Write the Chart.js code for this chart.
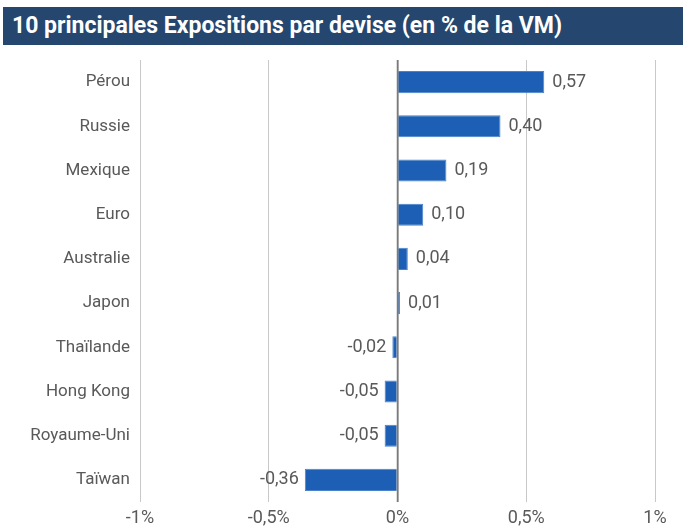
<!DOCTYPE html>
<html>
<head>
<meta charset="utf-8">
<script src="https://cdn.jsdelivr.net/npm/chart.js@4.4.1/dist/chart.umd.min.js"></script>
<style>
    body { margin: 0; background: #fff; }
    #wrap { position: relative; width: 683px; height: 530px; }
    #title {
        position: absolute; left: 3px; top: 7px; width: 680px; height: 38px;
        background: #24466f; color: #fff;
        font-family: Roboto, sans-serif;
        font-weight: bold; font-size: 23px; line-height: 38px; padding-left: 9px; box-sizing: border-box;
        white-space: nowrap; overflow: hidden;
    }
    #chart-box { position: absolute; left: 0; top: 0; width: 683px; height: 530px; }
</style>
</head>
<body>
<div id="wrap">
    <div id="chart-box"><canvas id="devise-canvas-id" width="683" height="530"></canvas></div>
    <div id="title">10 principales Expositions par devise (en % de la VM)</div>
</div>
<script>
const devises = ['Pérou', 'Russie', 'Mexique', 'Euro', 'Australie', 'Japon', 'Thaïlande', 'Hong Kong', 'Royaume-Uni', 'Taïwan'];
const expositions = [0.57, 0.40, 0.19, 0.10, 0.04, 0.01, -0.02, -0.05, -0.05, -0.36];
const xTicks = [-1, -0.5, 0, 0.5, 1];

const fontFamily = "Roboto, sans-serif";
const frNumber = (v) => String(v).replace('.', ',');

// draws the value next to each bar, comma as decimal separator
const valueLabels = {
    id: 'valueLabels',
    afterDatasetsDraw(chart) {
        const ctx = chart.ctx;
        const meta = chart.getDatasetMeta(0);
        const zeroX = chart.scales.x.getPixelForValue(0);
        ctx.save();
        // zero line over the bars
        ctx.strokeStyle = '#7a7a7a';
        ctx.lineWidth = 1.5;
        ctx.beginPath();
        ctx.moveTo(zeroX, chart.chartArea.top);
        ctx.lineTo(zeroX, chart.chartArea.bottom);
        ctx.stroke();

        ctx.font = `18px ${fontFamily}`;
        ctx.fillStyle = '#595959';
        ctx.textBaseline = 'middle';
        meta.data.forEach((bar, i) => {
            const v = expositions[i];
            const text = v.toFixed(2).replace('.', ',');
            if (v >= 0) {
                ctx.textAlign = 'left';
                ctx.fillText(text, bar.x + 8, bar.y);
            } else {
                ctx.textAlign = 'right';
                ctx.fillText(text, bar.x - 6, bar.y);
            }
        });
        ctx.restore();
    }
};

new Chart(document.getElementById('devise-canvas-id'), {
    type: 'bar',
    plugins: [valueLabels],
    data: {
        labels: devises,
        datasets: [{
            data: expositions,
            backgroundColor: '#1c5fb5',
            borderColor: '#4a82cc',
            borderWidth: 1,
            barPercentage: 0.5,
            categoryPercentage: 1,
        }]
    },
    options: {
        indexAxis: 'y',
        responsive: false,
        animation: false,
        layout: { padding: { top: 60, right: 28, bottom: 0, left: 0 } },
        plugins: {
            legend: { display: false },
            tooltip: { enabled: false },
        },
        scales: {
            x: {
                min: -1,
                max: 1,
                afterBuildTicks: (scale) => { scale.ticks = xTicks.map(v => ({ value: v })); },
                afterFit: (scale) => { scale.height = 28; },
                border: { display: false },
                grid: {
                    drawTicks: false,
                    color: (c) => c.tick && c.tick.value === 0 ? '#7a7a7a' : '#c8c8c8',
                    lineWidth: (c) => c.tick && c.tick.value === 0 ? 1.5 : 1,
                },
                ticks: {
                    padding: 6,
                    color: '#595959',
                    font: { family: fontFamily, size: 18 },
                    callback: (value) => `${frNumber(value)}%`,
                }
            },
            y: {
                afterFit: (scale) => { scale.width = 140; },
                border: { display: false },
                grid: { display: false, drawTicks: false },
                ticks: {
                    padding: 10,
                    color: '#595959',
                    font: { family: fontFamily, size: 17 },
                }
            }
        }
    }
});
</script>
</body>
</html>
